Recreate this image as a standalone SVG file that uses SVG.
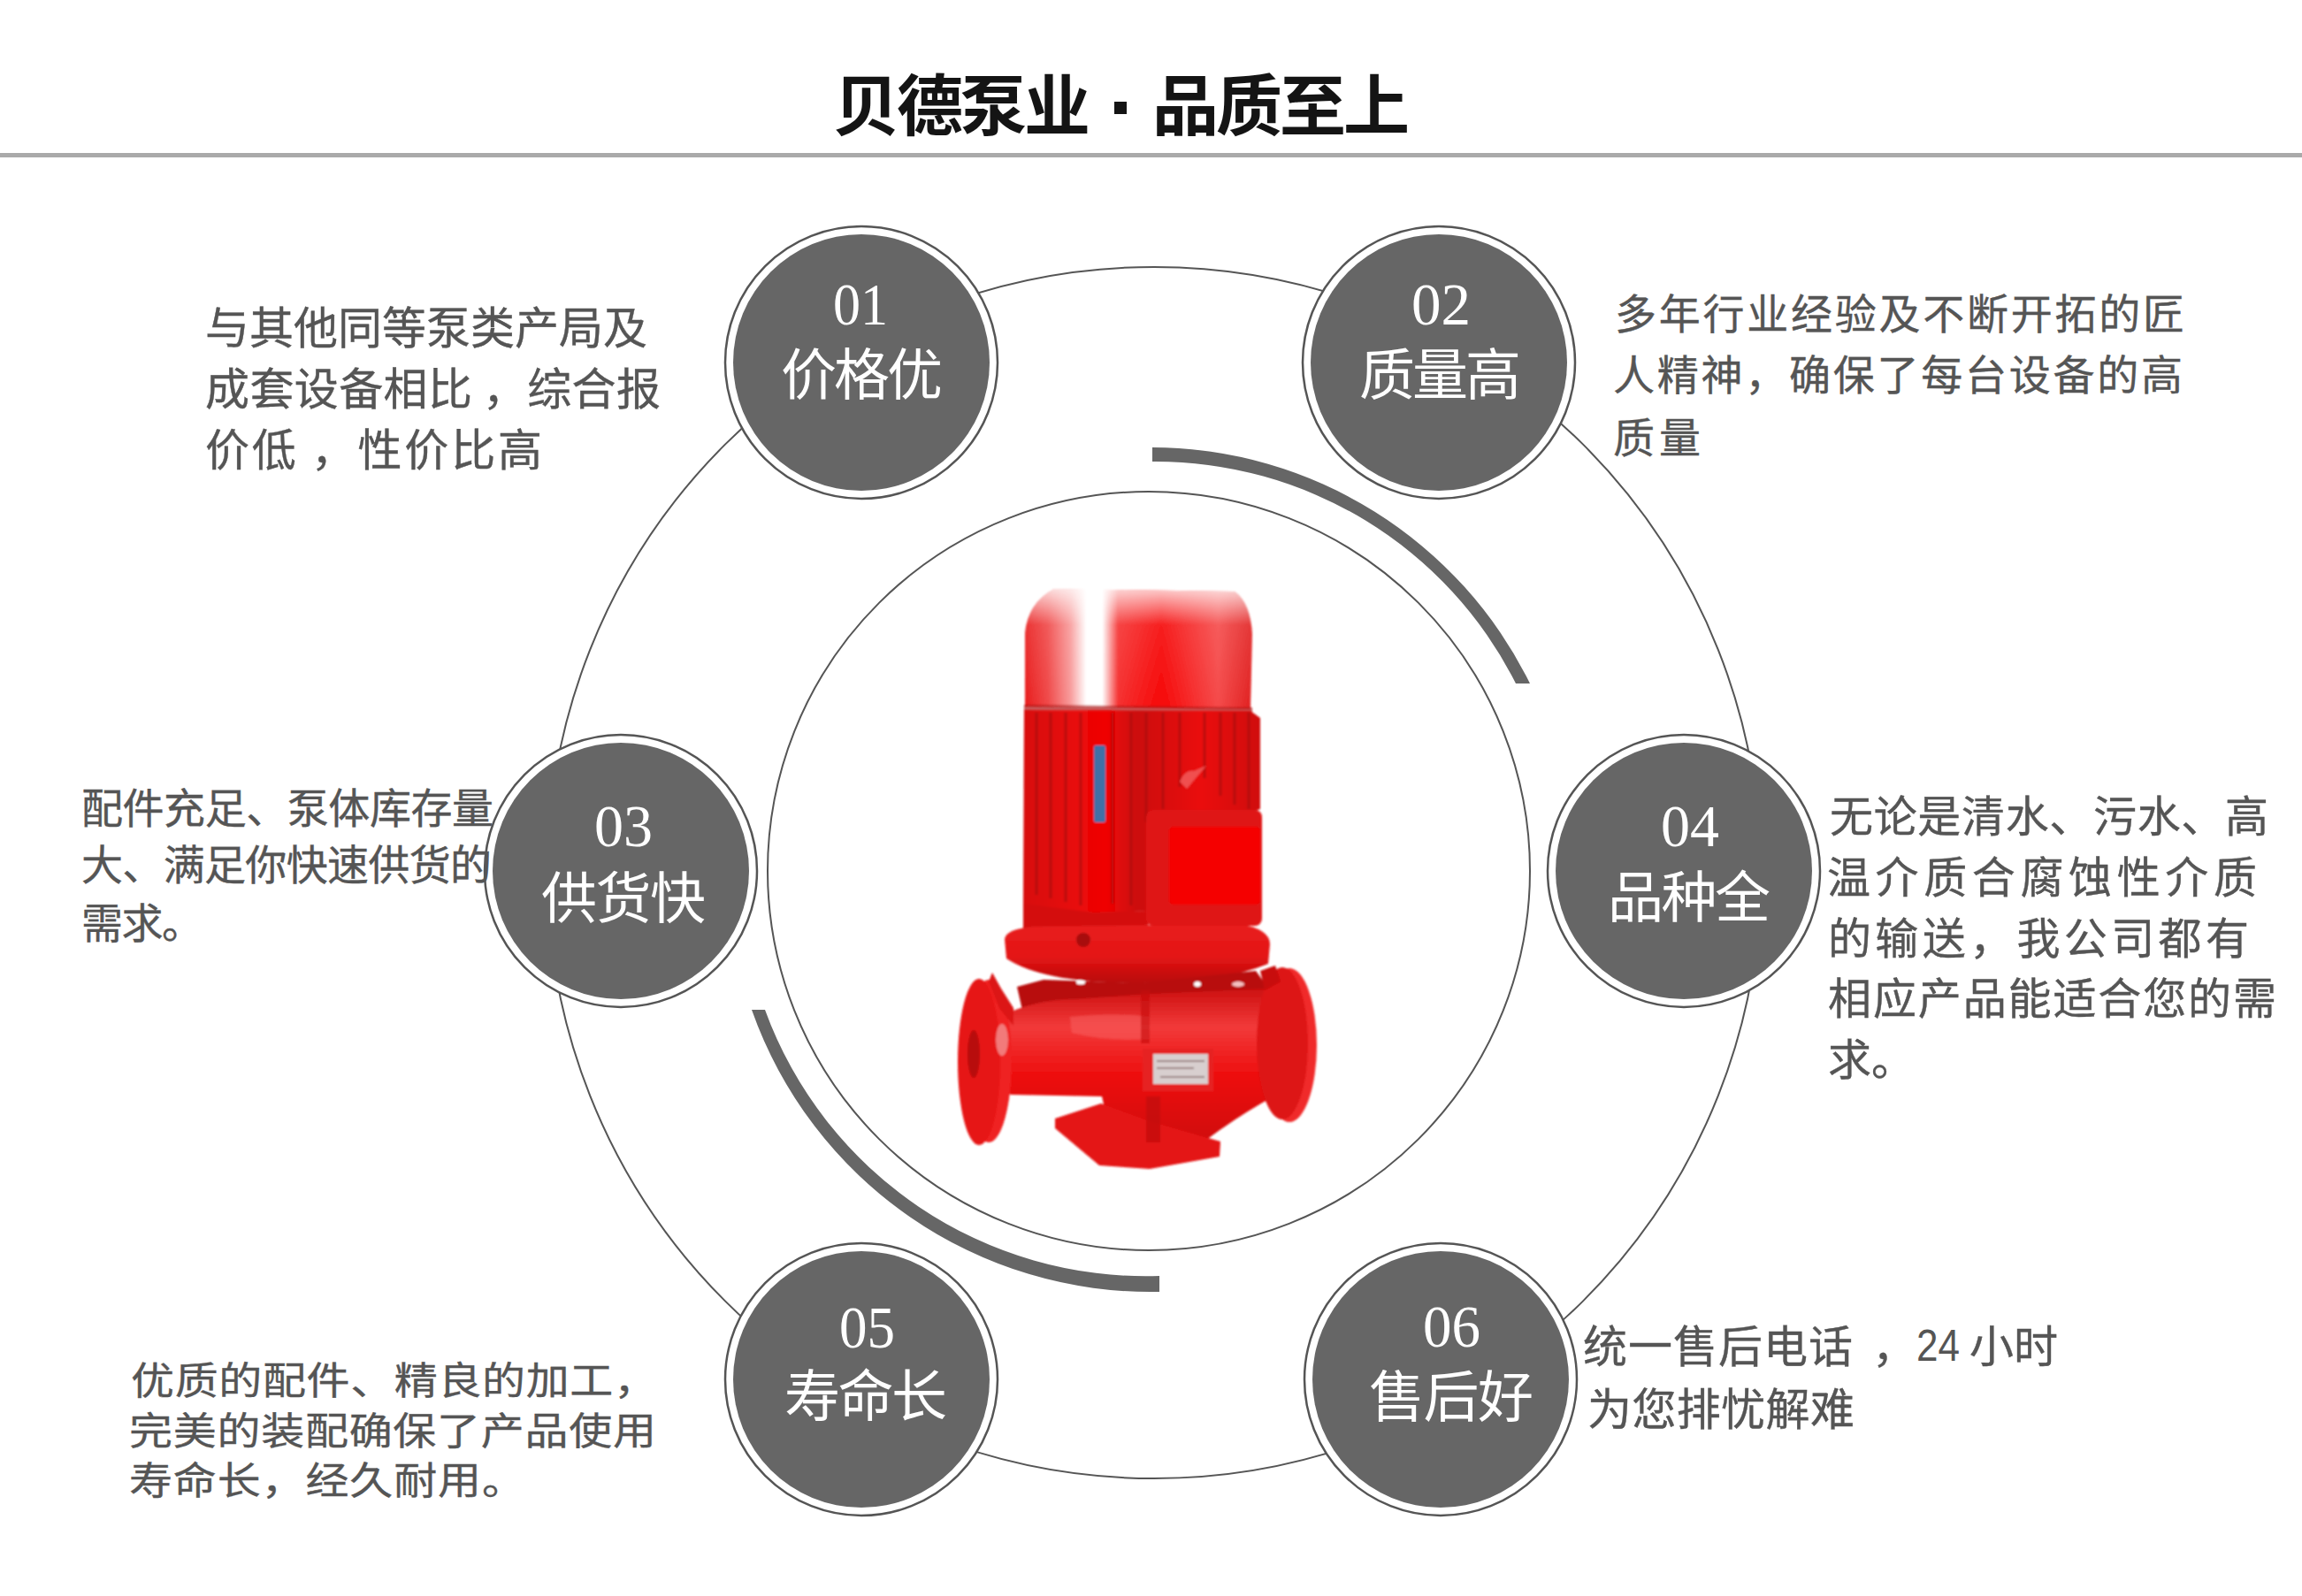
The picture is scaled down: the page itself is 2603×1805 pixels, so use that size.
<svg xmlns="http://www.w3.org/2000/svg" width="2603" height="1805" viewBox="0 0 2603 1805">
<style>
text{font-family:"Noto Sans CJK SC","Noto Sans",sans-serif}
.t{fill:#555;font-size:50px;stroke:#555;stroke-width:.4}
.t2{fill:#555;font-size:47px;stroke:#555;stroke-width:.4}
.t3{fill:#555;font-size:49px;stroke:#555;stroke-width:.4}
.ttl{fill:#141414;font-size:75px;font-weight:700}
.num{font-family:"Liberation Serif",serif;fill:#fff;font-size:68px}
.lab{fill:#fff;font-size:63px}
.out{fill:#fff;stroke:#555;stroke-width:2.5}
.in{fill:#666}
.ring{fill:none;stroke:#555;stroke-width:2}
.arc{fill:#666}
</style>
<defs>
<linearGradient id="cap" x1="0" x2="1" y1="0" y2="0">
<stop offset="0" stop-color="#e81c1c"/><stop offset=".1" stop-color="#f04848"/><stop offset=".2" stop-color="#f89a9a"/><stop offset=".27" stop-color="#fff"/><stop offset=".34" stop-color="#fff"/><stop offset=".41" stop-color="#f53030"/><stop offset=".6" stop-color="#f60606"/><stop offset=".85" stop-color="#f54a4a"/><stop offset="1" stop-color="#e02020"/>
</linearGradient>
<linearGradient id="capTop" x1="0" x2="0" y1="0" y2="1">
<stop offset="0" stop-color="#fff" stop-opacity=".8"/><stop offset=".3" stop-color="#fff" stop-opacity=".1"/><stop offset="1" stop-color="#fff" stop-opacity="0"/>
</linearGradient>
<linearGradient id="body" x1="0" x2="1" y1="0" y2="0">
<stop offset="0" stop-color="#d81010"/><stop offset=".35" stop-color="#f00404"/><stop offset=".48" stop-color="#cc0c0c"/><stop offset=".75" stop-color="#ea0808"/><stop offset="1" stop-color="#d01010"/>
</linearGradient>
<linearGradient id="vol" x1="0" x2="0" y1="0" y2="1">
<stop offset="0" stop-color="#cc1010"/><stop offset=".25" stop-color="#f23a3a"/><stop offset=".55" stop-color="#ee1010"/><stop offset="1" stop-color="#d00c0c"/>
</linearGradient>
<linearGradient id="fl" x1="0" x2="0" y1="0" y2="1">
<stop offset="0" stop-color="#e82020"/><stop offset=".55" stop-color="#e41414"/><stop offset="1" stop-color="#b80c0c"/>
</linearGradient>
<filter id="soft" x="-5%" y="-5%" width="110%" height="110%"><feGaussianBlur stdDeviation="1"/></filter>
</defs>
<rect width="2603" height="1805" fill="#fff"/>
<g id="header">
<text class="ttl" x="942" y="147" textLength="291" lengthAdjust="spacing">贝德泵业</text>
<rect x="1260" y="115" width="14" height="14" fill="#141414"/>
<text class="ttl" x="1303" y="147" textLength="291" lengthAdjust="spacing">品质至上</text>
<rect x="0" y="173" width="2603" height="5" fill="#aaa"/>
</g>
<g id="connectors">
<ellipse class="ring" cx="1305" cy="987" rx="686" ry="685"/>
<ellipse class="ring" cx="1299" cy="985" rx="431" ry="429"/>
<path class="arc" d="M1303 506A478 478 0 0 1 1730 773L1714 773A456 456 0 0 0 1303 522Z"/>
<path class="arc" d="M850 1142A478 478 0 0 0 1311 1461L1311 1443A458 458 0 0 1 865 1142Z"/>
</g>
<g id="pump" filter="url(#soft)">
<path fill="url(#cap)" d="M1159 799L1159 716Q1162 682 1192 666L1396 669Q1414 682 1416 717L1414 802Z"/>
<path fill="url(#capTop)" d="M1159 799L1159 716Q1162 682 1192 666L1396 669Q1414 682 1416 717L1414 802Z"/>
<path fill="#b00c0c" d="M1158 797L1416 800L1416 806L1158 803Z" opacity=".7"/>
<path fill="url(#body)" d="M1158 803L1414 804L1425 812L1425 915L1300 960L1296 1030L1236 1034L1157 1024Z"/>
<g stroke="#a80808" stroke-width="3" opacity=".7" fill="none">
<path d="M1172 806V1012M1188 806V1016M1205 806V1020M1222 806V1024M1258 806V1022M1279 806V1024M1296 806V930M1315 806V915M1334 806V890M1362 806V880M1380 806V900M1396 806V910M1412 806V915"/>
</g>
<rect x="1237" y="843" width="13" height="87" rx="2" fill="#3f6fa6"/>
<path fill="#f05050" d="M1334 884Q1340 870 1350 872L1364 866L1352 880L1342 892Z"/>
<path fill="#d41010" d="M1157 1022L1236 1032L1296 1030L1300 1056L1157 1056Z"/>
<path fill="url(#fl)" d="M1136 1062Q1138 1050 1170 1048L1400 1045Q1436 1050 1436 1068L1434 1090Q1380 1112 1290 1112Q1180 1112 1138 1084Z"/>
<rect x="1296" y="916" width="131" height="131" rx="8" fill="#df1414"/>
<rect x="1322" y="935" width="103" height="88" rx="5" fill="#f50000"/>
<circle cx="1225" cy="1063" r="8" fill="#a80c0c"/>
<path fill="#b80c0c" d="M1150 1116L1180 1108L1290 1112L1420 1098L1436 1120L1400 1160L1160 1160Z"/>
<ellipse cx="1222" cy="1111" rx="5" ry="2.5" fill="#fff"/>
<ellipse cx="1354" cy="1113" rx="4" ry="3" fill="#fff"/>
<ellipse cx="1400" cy="1113" rx="7" ry="3" fill="#f5c0c0"/>
<path fill="url(#vol)" d="M1130 1150Q1170 1130 1215 1130L1300 1124L1430 1118L1440 1240Q1400 1262 1360 1292L1296 1291L1250 1258L1246 1240L1143 1238L1130 1230Z"/>
<path fill="#f86060" opacity=".55" d="M1210 1150Q1260 1145 1300 1150L1300 1175Q1250 1178 1212 1168Z"/>
<path fill="#c40a0a" opacity=".6" d="M1290 1120H1300V1180H1290Z"/>
<path fill="#e41414" d="M1193 1265L1245 1248L1300 1268L1380 1291L1379 1308L1300 1322L1243 1318L1193 1276Z"/>
<path fill="#c00c0c" opacity=".7" d="M1296 1240H1312V1292H1296Z"/>
<rect x="1292" y="1186" width="80" height="48" fill="#e62020"/>
<rect x="1304" y="1192" width="62" height="34" fill="#d8cfcf"/>
<g stroke="#8a7070" stroke-width="2" opacity=".8"><path d="M1308 1200H1362M1308 1208H1350M1312 1218H1362"/></g>
<ellipse cx="1458" cy="1182" rx="31" ry="87" fill="#f02a2a"/>
<ellipse cx="1450" cy="1180" rx="29" ry="86" fill="#dd1212"/>
<path fill="#c81010" d="M1425 1098L1442 1092L1448 1110L1430 1120Z"/>
<ellipse cx="1118" cy="1200" rx="26" ry="92" fill="#ef2020"/>
<ellipse cx="1107" cy="1201" rx="24" ry="94" fill="#e61414"/>
<path fill="#dc1212" d="M1118 1110L1122 1100L1132 1118L1146 1140L1146 1160L1130 1140Z"/>
<ellipse cx="1101" cy="1192" rx="7" ry="27" fill="#b80808"/>
<ellipse cx="1133" cy="1176" rx="7" ry="18" fill="#f27a7a"/>
</g>
<g id="node01">
<circle class="out" cx="974" cy="410" r="154"/><circle class="in" cx="974" cy="410" r="145"/>
<text class="num" x="942" y="367" textLength="62" lengthAdjust="spacingAndGlyphs">01</text>
<text class="lab" x="883" y="446" textLength="183" lengthAdjust="spacing">价格优</text>
</g>
<g id="node02">
<circle class="out" cx="1627" cy="410" r="154"/><circle class="in" cx="1627" cy="410" r="145"/>
<text class="num" x="1596" y="367" textLength="67" lengthAdjust="spacingAndGlyphs">02</text>
<text class="lab" x="1537" y="446" textLength="183" lengthAdjust="spacing">质量高</text>
</g>
<g id="node03">
<circle class="out" cx="702" cy="985" r="154"/><circle class="in" cx="702" cy="985" r="145"/>
<text class="num" x="672" y="957" textLength="66" lengthAdjust="spacingAndGlyphs">03</text>
<text class="lab" x="612" y="1038" textLength="186" lengthAdjust="spacing">供货快</text>
</g>
<g id="node04">
<circle class="out" cx="1904" cy="985" r="154"/><circle class="in" cx="1904" cy="985" r="145"/>
<text class="num" x="1878" y="957" textLength="66" lengthAdjust="spacingAndGlyphs">04</text>
<text class="lab" x="1818" y="1037" textLength="184" lengthAdjust="spacing">品种全</text>
</g>
<g id="node05">
<circle class="out" cx="974" cy="1560" r="154"/><circle class="in" cx="974" cy="1560" r="145"/>
<text class="num" x="949" y="1524" textLength="63" lengthAdjust="spacingAndGlyphs">05</text>
<text class="lab" x="887" y="1601" textLength="184" lengthAdjust="spacing">寿命长</text>
</g>
<g id="node06">
<circle class="out" cx="1629" cy="1560" r="154"/><circle class="in" cx="1629" cy="1560" r="145"/>
<text class="num" x="1609" y="1523" textLength="65" lengthAdjust="spacingAndGlyphs">06</text>
<text class="lab" x="1548" y="1602" textLength="186" lengthAdjust="spacing">售后好</text>
</g>
<g id="desc01">
<text class="t" x="232" y="389" textLength="500" lengthAdjust="spacing">与其他同等泵类产局及</text>
<text class="t" x="232" y="458" textLength="515" lengthAdjust="spacing">成套设备相比 ，综合报</text>
<text class="t" x="232" y="527" textLength="381" lengthAdjust="spacing">价低 ，性价比高</text>
</g>
<g id="desc02">
<text class="t2" x="1826" y="372" textLength="644" lengthAdjust="spacing">多年行业经验及不断开拓的匠</text>
<text class="t2" x="1824" y="441" textLength="644" lengthAdjust="spacing">人精神，确保了每台设备的高</text>
<text class="t2" x="1824" y="512" textLength="99" lengthAdjust="spacing">质量</text>
</g>
<g id="desc03">
<text class="t2" x="92" y="931" textLength="466" lengthAdjust="spacing">配件充足、泵体库存量</text>
<text class="t2" x="92" y="995" textLength="464" lengthAdjust="spacing">大、满足你快速供货的</text>
<text class="t2" x="92" y="1061" textLength="138" lengthAdjust="spacing">需求。</text>
</g>
<g id="desc04">
<text class="t3" x="2069" y="941" textLength="496" lengthAdjust="spacing">无论是清水、污水、高</text>
<text class="t3" x="2066" y="1010" textLength="486" lengthAdjust="spacing">温介质合腐蚀性介质</text>
<text class="t3" x="2067" y="1079" textLength="476" lengthAdjust="spacing">的输送，我公司都有</text>
<text class="t3" x="2067" y="1147" textLength="507" lengthAdjust="spacing">相应产品能适合您的需</text>
<text class="t3" x="2067" y="1216" textLength="98" lengthAdjust="spacing">求。</text>
</g>
<g id="desc05">
<text class="t3" transform="translate(148 1577) scale(1 .88)" textLength="595" lengthAdjust="spacing">优质的配件、精良的加工，</text>
<text class="t3" transform="translate(146 1634) scale(1 .88)" textLength="596" lengthAdjust="spacing">完美的装配确保了产品使用</text>
<text class="t3" transform="translate(146 1690) scale(1 .88)" textLength="448" lengthAdjust="spacing">寿命长，经久耐用。</text>
</g>
<g id="desc06">
<text class="t" x="1790" y="1541" textLength="305" lengthAdjust="spacing">统一售后电话</text>
<text class="t" x="2117" y="1541">，</text>
<text style="font-family:'Liberation Sans',sans-serif" fill="#555" font-size="50" x="2167" y="1539" textLength="49" lengthAdjust="spacingAndGlyphs">24</text>
<text class="t" x="2227" y="1541" textLength="100" lengthAdjust="spacing">小时</text>
<text class="t" x="1795" y="1612" textLength="302" lengthAdjust="spacing">为您排忧解难</text>
</g>
</svg>
